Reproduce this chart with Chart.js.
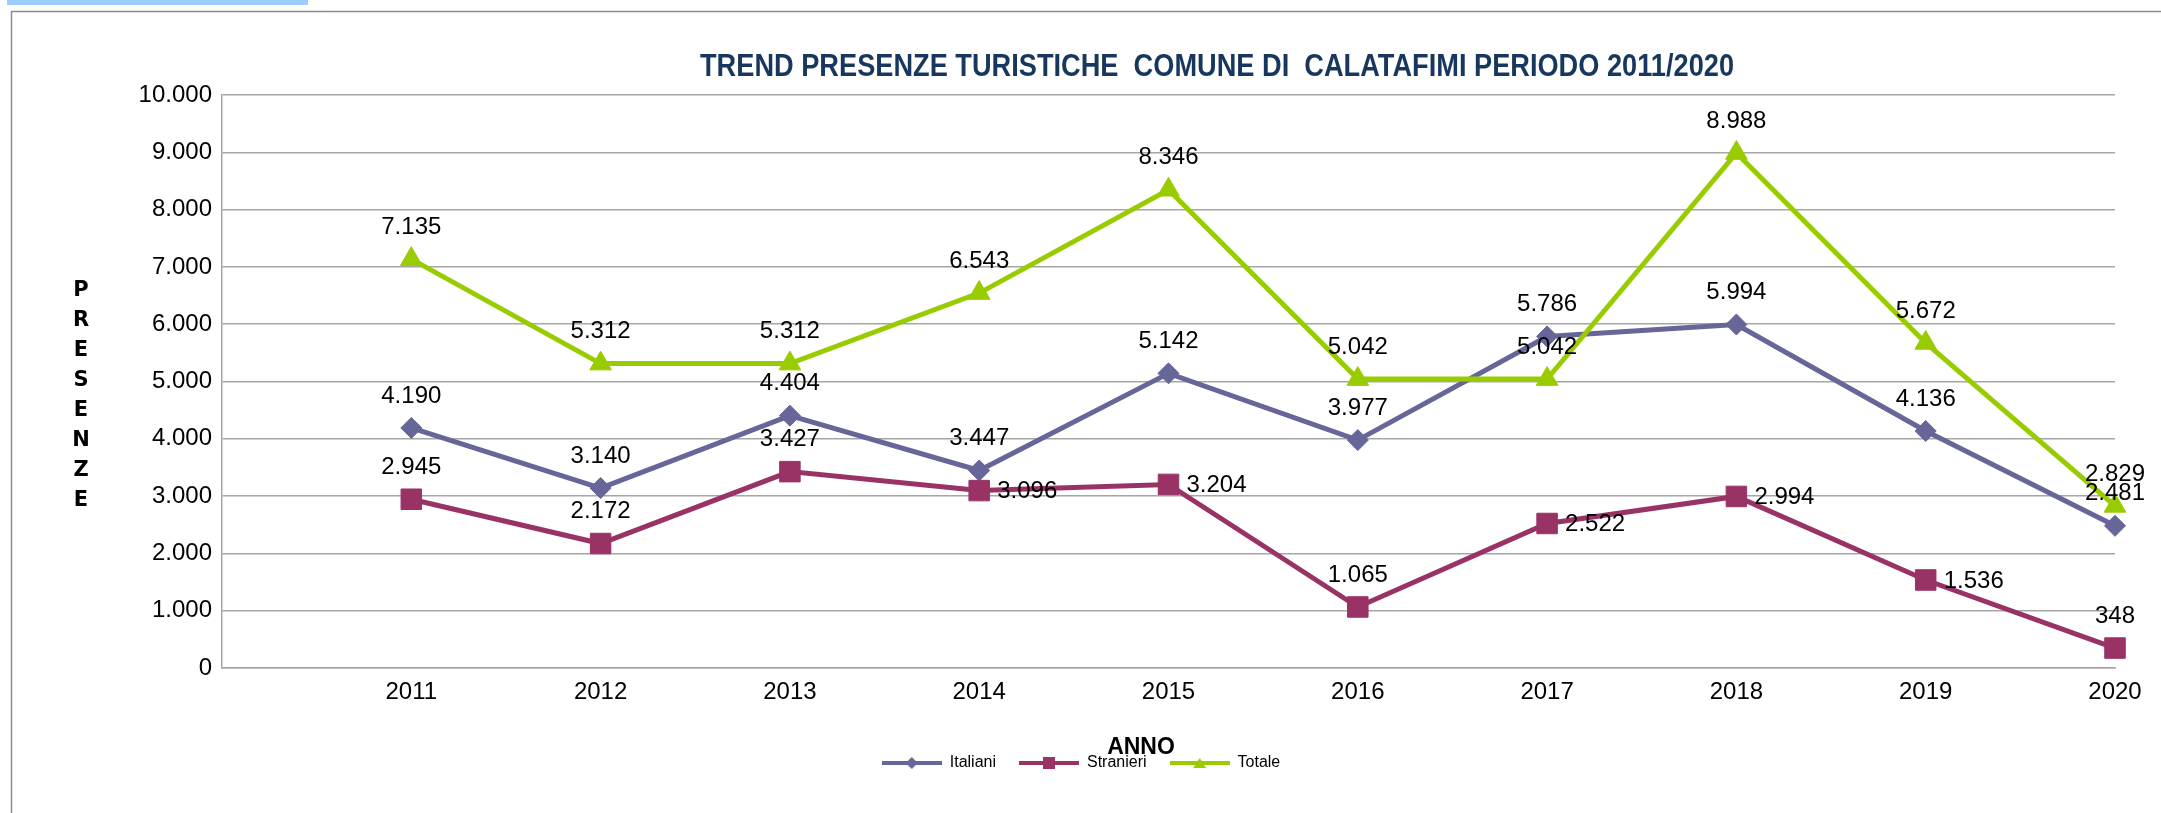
<!DOCTYPE html>
<html>
<head>
<meta charset="utf-8">
<script src="https://cdn.jsdelivr.net/npm/chart.js@4.4.1/dist/chart.umd.min.js"></script>
<style>
html,body{margin:0;padding:0;background:#fff;overflow:hidden}
canvas{display:block}
</style>
</head>
<body>
<canvas id="c" width="2161" height="813"></canvas>
<script>
// ---- data ----
const years = ['2011','2012','2013','2014','2015','2016','2017','2018','2019','2020'];
const italiani  = [4190, 3140, 4404, 3447, 5142, 3977, 5786, 5994, 4136, 2481];
const stranieri = [2945, 2172, 3427, 3096, 3204, 1065, 2522, 2994, 1536, 348];
const totale    = [7135, 5312, 5312, 6543, 8346, 5042, 5042, 8988, 5672, 2829];
const yTickValues = [0, 1000, 2000, 3000, 4000, 5000, 6000, 7000, 8000, 9000, 10000];
const seriesNames = ['Italiani', 'Stranieri', 'Totale'];
const titleText = 'TREND PRESENZE TURISTICHE  COMUNE DI  CALATAFIMI PERIODO 2011/2020';
const xTitle = 'ANNO';
const yTitle = 'PRESENZE';

// label placement (style)
const italianiSide  = ['top','top','top','top','top','top','top','top','top','top'];
const stranieriSide = ['top','top','top','right','right','top','right','right','right','top'];
const totaleSide    = ['top','top','top','top','top','top','top','top','top','top'];

const COL_IT = '#666699', COL_ST = '#993366', COL_TO = '#99CC00';
const GRID = '#A6A6A6';

function fmt(v){ return String(v).replace(/\B(?=(\d{3})+(?!\d))/g, '.'); }

// leading empty category slot (as in the original axis)
const xLabels = [''].concat(years);
const pad = arr => [null].concat(arr);

function legendIcon(color, shape){
  const c = document.createElement('canvas');
  c.width = 60; c.height = 20;
  const g = c.getContext('2d');
  g.strokeStyle = color; g.lineWidth = 4;
  g.beginPath(); g.moveTo(0,10); g.lineTo(60,10); g.stroke();
  g.fillStyle = color;
  g.beginPath();
  if (shape === 'diamond'){ g.moveTo(30,4); g.lineTo(36,10); g.lineTo(30,16); g.lineTo(24,10); }
  else if (shape === 'square'){ g.rect(24,4,12,12); }
  else { g.moveTo(30,5); g.lineTo(36.5,15); g.lineTo(23.5,15); }
  g.closePath(); g.fill();
  return c;
}

const decorPlugin = {
  id: 'decor',
  beforeDraw(chart){
    const ctx = chart.ctx;
    ctx.save();
    ctx.fillStyle = '#fff';
    ctx.fillRect(0,0,chart.width,chart.height);
    ctx.fillStyle = '#9CCBFF';
    ctx.fillRect(7,0,301,5);
    ctx.strokeStyle = '#8C8C8C'; ctx.lineWidth = 1.5;
    ctx.beginPath(); ctx.moveTo(11.5, chart.height); ctx.lineTo(11.5, 11.5); ctx.lineTo(chart.width, 11.5); ctx.stroke();
    ctx.restore();
  },
  afterDraw(chart){
    const ctx = chart.ctx;
    ctx.save();
    // title
    ctx.font = 'bold 31px "Liberation Sans Narrow", "Liberation Sans", Arial, sans-serif';
    const w = ctx.measureText(titleText).width;
    ctx.translate(1217, 67);
    ctx.scale(1034 / w, 1);
    ctx.fillStyle = '#17375E';
    ctx.textAlign = 'center'; ctx.textBaseline = 'middle';
    ctx.fillText(titleText, 0, 0);
    ctx.restore();
    ctx.save();
    // y title, stacked letters
    ctx.font = 'bold 21px "DejaVu Sans", "Liberation Sans", sans-serif';
    ctx.fillStyle = '#000';
    ctx.textAlign = 'center'; ctx.textBaseline = 'middle';
    yTitle.split('').forEach((ch, i) => ctx.fillText(ch, 81, 291 + i * 30));
    // x title
    ctx.font = 'bold 23px "Liberation Sans", Arial, sans-serif';
    ctx.fillText(xTitle, 1141, 748);
    ctx.restore();
  }
};

const dataLabelPlugin = {
  id: 'dataLabels',
  afterDatasetsDraw(chart){
    const ctx = chart.ctx;
    ctx.save();
    ctx.font = '24px "Liberation Sans", Arial, sans-serif';
    ctx.fillStyle = '#000';
    ctx.textBaseline = 'middle';
    chart.data.datasets.forEach((ds, di) => {
      const meta = chart.getDatasetMeta(di);
      meta.data.forEach((pt, i) => {
        const v = ds.data[i];
        if (v == null) return;
        const side = ds.labelSide[i - 1];
        if (side === 'right'){
          ctx.textAlign = 'left';
          ctx.fillText(fmt(v), pt.x + 18, pt.y + 1);
        } else {
          ctx.textAlign = 'center';
          ctx.fillText(fmt(v), pt.x, pt.y - 32);
        }
      });
    });
    ctx.restore();
  }
};

new Chart(document.getElementById('c'), {
  type: 'line',
  data: {
    labels: xLabels,
    datasets: [
      { label: seriesNames[0], data: pad(italiani), borderColor: COL_IT, backgroundColor: COL_IT,
        borderWidth: 5, pointStyle: 'rectRot', pointRadius: 10.5, pointBorderWidth: 1,
        pointBackgroundColor: COL_IT, pointBorderColor: COL_IT, order: 3, labelSide: italianiSide,
        icon: legendIcon(COL_IT, 'diamond') },
      { label: seriesNames[1], data: pad(stranieri), borderColor: COL_ST, backgroundColor: COL_ST,
        borderWidth: 5, pointStyle: 'rect', pointRadius: 14.5, pointBorderWidth: 1,
        pointBackgroundColor: COL_ST, pointBorderColor: COL_ST, order: 2, labelSide: stranieriSide,
        icon: legendIcon(COL_ST, 'square') },
      { label: seriesNames[2], data: pad(totale), borderColor: COL_TO, backgroundColor: COL_TO,
        borderWidth: 5, pointStyle: 'triangle', pointRadius: 12.5, pointBorderWidth: 1,
        pointBackgroundColor: COL_TO, pointBorderColor: COL_TO, order: 1, labelSide: totaleSide,
        icon: legendIcon(COL_TO, 'triangle') }
    ]
  },
  options: {
    responsive: false,
    animation: false,
    devicePixelRatio: 1,
    spanGaps: false,
    layout: { padding: { left: 47, right: 46, top: 95, bottom: 32 } },
    plugins: {
      title: { display: false },
      tooltip: { enabled: false },
      legend: {
        position: 'bottom',
        align: 'center',
        labels: {
          usePointStyle: true,
          pointStyleWidth: 60,
          padding: 23,
          color: '#000',
          font: { size: 16, family: '"Liberation Sans", Arial, sans-serif' },
          sort: (a, b) => a.datasetIndex - b.datasetIndex,
          generateLabels(chart){
            return chart.data.datasets.map((ds, i) => ({
              text: ds.label, datasetIndex: i, pointStyle: ds.icon,
              fillStyle: ds.borderColor, strokeStyle: ds.borderColor, lineWidth: 0,
              hidden: false, fontColor: '#000'
            }));
          }
        }
      }
    },
    scales: {
      x: {
        type: 'category',
        offset: false,
        grid: { display: false, drawTicks: false },
        border: { display: true, color: GRID, width: 1.5 },
        ticks: { color: '#000', padding: 10, maxRotation: 0, autoSkip: false,
                 font: { size: 24, family: '"Liberation Sans", Arial, sans-serif' } },
        afterFit(s){ s.height = 64; }
      },
      y: {
        min: 0, max: 10000,
        afterBuildTicks(s){ s.ticks = yTickValues.map(v => ({ value: v })); },
        grid: { color: GRID, lineWidth: 1.5, drawTicks: false },
        border: { display: true, color: GRID, width: 1.5 },
        ticks: { color: '#000', padding: 10, callback: v => fmt(v),
                 font: { size: 24, family: '"Liberation Sans", Arial, sans-serif' } },
        afterFit(s){ s.width = 175; }
      }
    }
  },
  plugins: [decorPlugin, dataLabelPlugin]
});
</script>
</body>
</html>
